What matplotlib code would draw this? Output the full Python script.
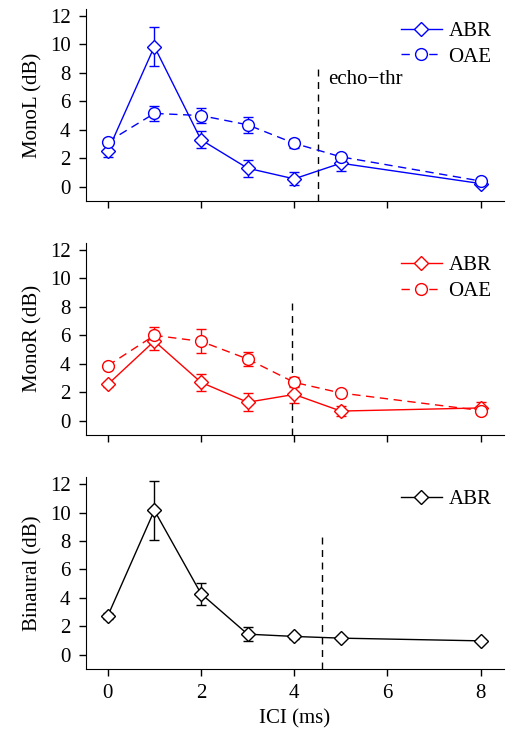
import numpy as np
import matplotlib
matplotlib.use('Agg')
import matplotlib.pyplot as plt
from matplotlib.lines import Line2D

plt.rcParams['font.family'] = ['Liberation Serif', 'DejaVu Serif']
plt.rcParams['font.size'] = 14

ici = [0, 1, 2, 3, 4, 5, 8]

# MonoL
monoL_abr = [2.5, 9.85, 3.3, 1.3, 0.55, 1.65, 0.22]
monoL_abr_err = [0.4, 1.4, 0.6, 0.6, 0.45, 0.55, 0.2]
monoL_oae = [3.15, 5.15, 5.0, 4.35, 3.05, 2.1, 0.4]
monoL_oae_err = [0.2, 0.55, 0.5, 0.55, 0.3, 0.15, 0.15]

# MonoR
monoR_abr = [2.55, 5.6, 2.7, 1.3, 1.85, 0.68, 0.9]
monoR_abr_err = [0.15, 0.6, 0.6, 0.65, 0.6, 0.35, 0.4]
monoR_oae = [3.87, 6.0, 5.58, 4.34, 2.7, 1.95, 0.72]
monoR_oae_err = [0.15, 0.6, 0.85, 0.5, 0.35, 0.1, 0.15]

# Binaural
bin_abr = [2.73, 10.15, 4.3, 1.45, 1.29, 1.17, 0.98]
bin_abr_err = [0.2, 2.07, 0.78, 0.5, 0.15, 0.1, 0.1]

echo_thr = [4.52, 3.96, 4.6]

fig = plt.figure(figsize=(5.08, 7.36), dpi=100)
rects = [[0.169, 0.727, 0.823, 0.261],
         [0.169, 0.409, 0.823, 0.261],
         [0.169, 0.091, 0.823, 0.261]]
axes = [fig.add_axes(r) for r in rects]

ABR_STYLE = dict(marker='D', ms=7.5, linestyle='-')
OAE_STYLE = dict(marker='o', ms=8.5, linestyle=(0, (6, 4)))

def series(ax, y, err, color, style):
    ax.errorbar(ici, y, yerr=err, color=color, lw=1.0, mfc='white', mec=color,
                mew=1.0, capsize=3.5, elinewidth=1.0, capthick=1.0, **style)
    return Line2D([], [], color=color, lw=1.0, mfc='white', mec=color,
                  mew=1.0, **style)

h = [[series(axes[0], monoL_abr, monoL_abr_err, 'blue', ABR_STYLE),
      series(axes[0], monoL_oae, monoL_oae_err, 'blue', OAE_STYLE)],
     [series(axes[1], monoR_abr, monoR_abr_err, 'red', ABR_STYLE),
      series(axes[1], monoR_oae, monoR_oae_err, 'red', OAE_STYLE)],
     [series(axes[2], bin_abr, bin_abr_err, 'black', ABR_STYLE)]]
labels = [['ABR', 'OAE'], ['ABR', 'OAE'], ['ABR']]

ylabels = ['MonoL (dB)', 'MonoR (dB)', 'Binaural (dB)']
for i, ax in enumerate(axes):
    ax.plot([echo_thr[i], echo_thr[i]], [-1, 8.45], color='black', lw=1.0,
            linestyle=(0, (5, 4)))
    ax.set_xlim(-0.47, 8.5)
    ax.set_ylim(-1, 12.5)
    ax.set_yticks([0, 2, 4, 6, 8, 10, 12])
    ax.set_xticks([0, 2, 4, 6, 8])
    ax.spines['top'].set_visible(False)
    ax.spines['right'].set_visible(False)
    ax.tick_params(direction='out', length=5, width=1, labelsize=15, pad=6)
    ax.set_ylabel(ylabels[i], fontsize=15, labelpad=5)
    ax.legend(h[i], labels[i], loc='upper right', frameon=False, fontsize=15,
              handlelength=2.0, handletextpad=0.3, labelspacing=0.3,
              borderaxespad=0.2)
    if i < 2:
        ax.tick_params(labelbottom=False)

axes[0].text(4.72, 7.5, 'echo\u2212thr', fontsize=15, va='center', ha='left')
axes[2].set_xlabel('ICI (ms)', fontsize=15)

fig.savefig('out.png', dpi=100)
